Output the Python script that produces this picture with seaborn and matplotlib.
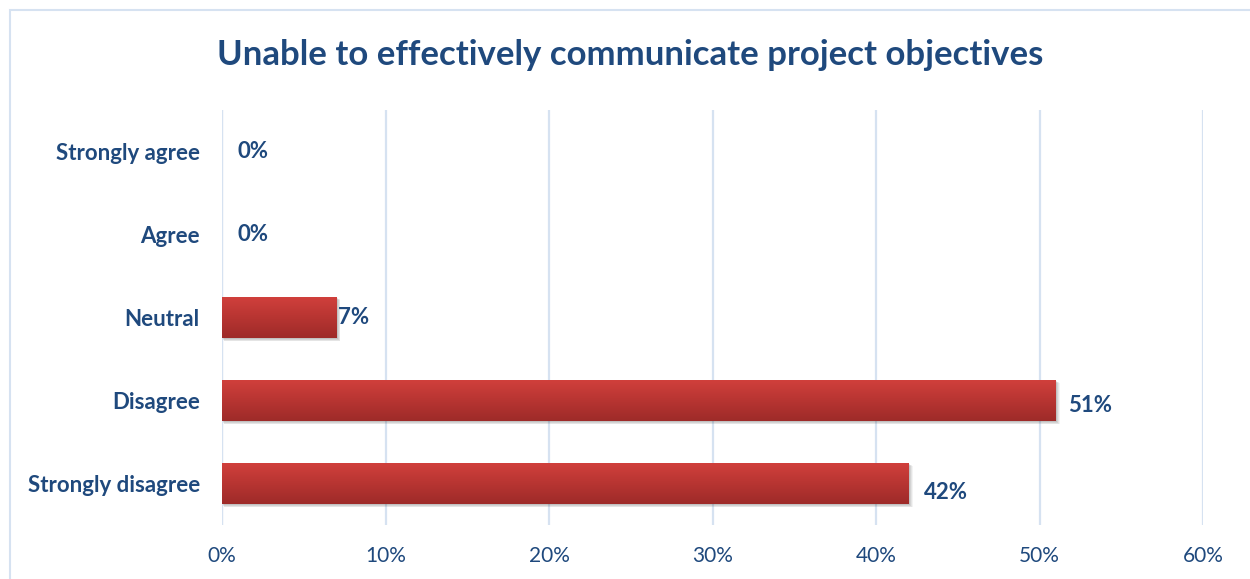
import numpy as np
import pandas as pd
import matplotlib
matplotlib.use("Agg")
import matplotlib.pyplot as plt
from matplotlib.patches import Rectangle
from matplotlib.colors import LinearSegmentedColormap
import seaborn as sns

# Survey responses
categories = ["Strongly agree", "Agree", "Neutral", "Disagree", "Strongly disagree"]
shares = [0.00, 0.00, 0.07, 0.51, 0.42]
x_ticks = [0.0, 0.1, 0.2, 0.3, 0.4, 0.5, 0.6]
x_tick_labels = ["0%", "10%", "20%", "30%", "40%", "50%", "60%"]
title = "Unable to effectively communicate project objectives"

df = pd.DataFrame({"category": categories, "share": shares})

sns.set_theme(style="white")
plt.rcParams["font.family"] = ["Lato", "DejaVu Sans"]

text_color = "#1F497D"
grid_color = "#D6E2F1"

fig = plt.figure(figsize=(12.5, 5.79), dpi=100)
ax = fig.add_axes([222 / 1250, 1 - 525 / 579, (1203 - 222) / 1250, (525 - 110) / 579])

sns.barplot(data=df, x="share", y="category", order=categories, ax=ax,
            color="#C0392F", width=0.5, orient="h", zorder=3)

ax.set_xlim(0, 0.6)
ax.set_ylim(len(categories) - 0.5, -0.5)

# vertical gradient fill + soft drop shadow on each bar
grad = LinearSegmentedColormap.from_list("bar", ["#D1403C", "#B83532", "#9E2B29"])
gimg = np.linspace(0, 1, 64).reshape(-1, 1)
px_x = 0.6 / (1203 - 222)
px_y = 5 / (525 - 110)
for patch in list(ax.patches):
    x0, y0 = patch.get_x(), patch.get_y()
    w, h = patch.get_width(), patch.get_height()
    patch.set_edgecolor("none")
    patch.set_linewidth(0)
    if w <= 0:
        patch.set_visible(False)
        continue
    for k, a in zip([5, 4, 3, 2], [0.06, 0.08, 0.10, 0.12]):
        sh = Rectangle((x0 + k * px_x * 0.4, y0 + k * px_y * 0.6), w + k * px_x * 0.4, h,
                       facecolor="#404040", alpha=a, linewidth=0, zorder=2)
        ax.add_patch(sh)
    im = ax.imshow(gimg, cmap=grad, aspect="auto", extent=[x0, x0 + w, y0 + h, y0],
                   zorder=4, interpolation="bicubic")
    im.set_clip_path(patch)

ax.set_xlim(0, 0.6)
ax.set_ylim(len(categories) - 0.5, -0.5)

# value labels
nudges = [(16, 0), (16, 0), (2, 0), (12, -5), (15, -9)]
for i, (v, (dx, dy)) in enumerate(zip(shares, nudges)):
    ax.annotate(f"{round(v * 100)}%", xy=(v, i), xytext=(dx * 0.72, dy * 0.72),
                textcoords="offset points", ha="left", va="center",
                fontsize=16, fontweight="bold", color=text_color, zorder=6)

ax.set_xticks(x_ticks)
ax.set_xticklabels(x_tick_labels, fontsize=15, color=text_color)
ax.set_yticks(range(len(categories)))
ax.set_yticklabels(categories, fontsize=16, fontweight="bold", color=text_color)
ax.tick_params(axis="x", length=0, pad=15)
ax.tick_params(axis="y", length=0, pad=16)
ax.set_xlabel("")
ax.set_ylabel("")

ax.grid(axis="x", color=grid_color, linewidth=1.6, zorder=0)
ax.grid(axis="y", visible=False)
ax.set_axisbelow(True)
for s in ax.spines.values():
    s.set_visible(False)
ax.axvline(0, color=grid_color, linewidth=1.6, zorder=1)

fig.text(0.5 * (218 + 1043) / 1250, 1 - 55 / 579, title, ha="center", va="center",
         fontsize=25, fontweight="bold", color=text_color)

# chart area border (left and top edges fall inside the canvas)
fig.patches.append(Rectangle((10 / 1250, -0.05), 1.2, 1 - 10 / 579 + 0.05,
                             transform=fig.transFigure, fill=False,
                             edgecolor="#D6E2F1", linewidth=1.5))

fig.savefig("out.png", dpi=100, facecolor="white")
